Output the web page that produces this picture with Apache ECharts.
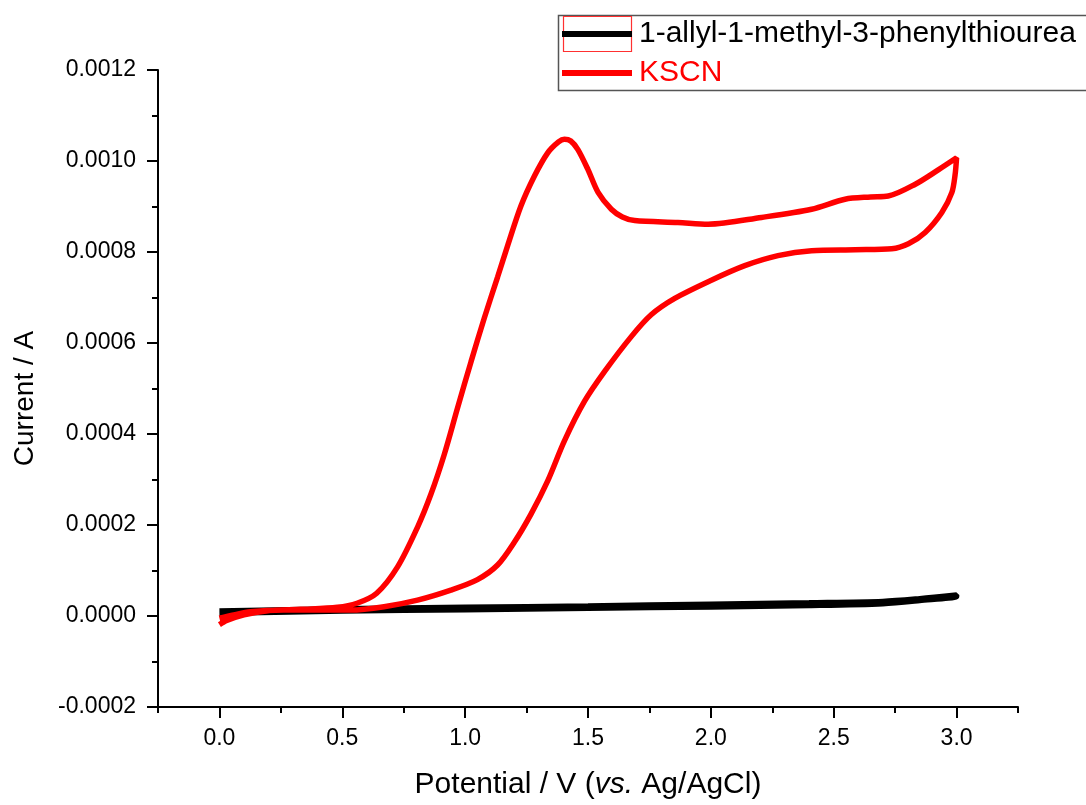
<!DOCTYPE html>
<html>
<head>
<meta charset="utf-8">
<script src="https://cdn.jsdelivr.net/npm/echarts@6/dist/echarts.min.js"></script>
<style>
html,body{margin:0;padding:0;background:#fff;}
#chart{width:1086px;height:805px;}
</style>
</head>
<body>
<div id="chart"></div>
<script>
// KSCN cyclic voltammogram (forward scan then reverse scan), potential in V, current in A
var kscnV = [0, 0.03, 0.1, 0.19, 0.33, 0.48, 0.56, 0.64, 0.725, 0.806, 0.861, 0.915, 0.969, 1.024, 1.078, 1.132, 1.173, 1.227, 1.282, 1.336, 1.38, 1.404, 1.43, 1.459, 1.5, 1.541, 1.595, 1.64, 1.69, 1.866, 1.989, 2.206, 2.41, 2.546, 2.65, 2.722, 2.832, 2.927, 3.0,
  2.994, 2.981, 2.94, 2.872, 2.804, 2.736, 2.587, 2.41, 2.273, 2.138, 2.002, 1.853, 1.757, 1.676, 1.567, 1.486, 1.404, 1.336, 1.268, 1.2, 1.132, 1.05, 0.942, 0.806, 0.67, 0.534, 0.4, 0.262, 0.126, 0.058, 0];
var kscnI = [-19e-6, -10e-6, 2.4e-6, 11e-6, 14.6e-6, 19e-6, 28e-6, 50e-6, 108e-6, 195e-6, 268e-6, 355e-6, 457e-6, 559e-6, 655e-6, 745e-6, 814e-6, 901e-6, 967e-6, 1018e-6, 1042e-6, 1048e-6, 1044e-6, 1025e-6, 981e-6, 931e-6, 894e-6, 877e-6, 869e-6, 865e-6, 861e-6, 876e-6, 894e-6, 916e-6, 921e-6, 923e-6, 949e-6, 981e-6, 1007e-6,
  970e-6, 931e-6, 887e-6, 843e-6, 818e-6, 807e-6, 805e-6, 803e-6, 792e-6, 770e-6, 738e-6, 698e-6, 662e-6, 614e-6, 537e-6, 472e-6, 385e-6, 297e-6, 224e-6, 162e-6, 112e-6, 80e-6, 57e-6, 35e-6, 20.5e-6, 13e-6, 13e-6, 13e-6, 9.6e-6, 2.4e-6, -5e-6];

// 1-allyl-1-methyl-3-phenylthiourea (forward then reverse)
var thioV = [0, 0.5, 1.0, 1.5, 2.0, 2.4, 2.7, 2.85, 3.0, 3.0, 2.85, 2.7, 2.4, 2.0, 1.5, 1.0, 0.5, 0];
var thioI = [11e-6, 16e-6, 19e-6, 22e-6, 26e-6, 29e-6, 32e-6, 38e-6, 46e-6, 43e-6, 34e-6, 27e-6, 23e-6, 20e-6, 17e-6, 14e-6, 11e-6, 6e-6];

var xMajorTicks = [0, 0.5, 1.0, 1.5, 2.0, 2.5, 3.0];
var seriesNames = ['1-allyl-1-methyl-3-phenylthiourea', 'KSCN'];

function pairs(xs, ys) { return xs.map(function (x, i) { return [x, ys[i]]; }); }

var FONT = 'Liberation Sans';
var chart = echarts.init(document.getElementById('chart'), null, {renderer: 'canvas'});
chart.setOption({
  backgroundColor: '#fff',
  animation: false,
  grid: {left: 158, right: 68, top: 70, bottom: 94, containLabel: false},
  legend: {
    orient: 'vertical', left: 558, top: 15,
    padding: [2, 0, 1, 4], itemGap: 5, itemWidth: 70, itemHeight: 6,
    icon: 'rect', borderWidth: 0,
    textStyle: {fontSize: 30, fontFamily: FONT, lineHeight: 34, padding: [0, 0, 0, 2]},
    data: [
      {name: seriesNames[0], textStyle: {color: '#000'}},
      {name: seriesNames[1], textStyle: {color: '#ff0000'}}
    ]
  },
  graphic: [{
    type: 'polyline', silent: true, z: -1,
    shape: {points: [[1120, 15.5], [558.5, 15.5], [558.5, 90.5], [1120, 90.5]]},
    style: {fill: 'none', stroke: '#555', lineWidth: 1.5}
  }, {
    type: 'rect', silent: true,
    shape: {x: 563.5, y: 16.5, width: 68, height: 35},
    style: {fill: 'none', stroke: '#ff3030', lineWidth: 1.2}
  }],
  xAxis: [{
    type: 'value', min: -0.25, max: 3.25, interval: 0.25,
    axisLine: {show: true, onZero: false, lineStyle: {color: '#000', width: 2}},
    axisTick: {show: true, inside: false, length: 6, lineStyle: {color: '#000', width: 2}},
    axisLabel: {show: false},
    splitLine: {show: false}
  }, {
    type: 'value', min: -0.25, max: 3.25, position: 'bottom',
    name: 'Potential / V ({i|vs.} Ag/AgCl)',
    nameLocation: 'middle', nameGap: 63,
    nameTextStyle: {fontSize: 30, fontFamily: FONT, color: '#000',
      rich: {i: {fontSize: 30, fontFamily: FONT, fontStyle: 'italic', color: '#000'}}},
    axisLine: {show: false, onZero: false},
    axisTick: {show: true, inside: false, length: 11, customValues: xMajorTicks, lineStyle: {color: '#000', width: 2}},
    axisLabel: {show: true, customValues: xMajorTicks, margin: 20, fontSize: 23, fontFamily: FONT, color: '#000',
      formatter: function (v) { return v.toFixed(1); }},
    splitLine: {show: false}
  }],
  yAxis: {
    type: 'value', min: -0.0002, max: 0.0012, interval: 0.0002,
    name: 'Current / A', nameLocation: 'middle', nameGap: 119, nameRotate: 90,
    nameTextStyle: {fontSize: 28, fontFamily: FONT, color: '#000', padding: [0, 20, 0, 0]},
    axisLine: {show: true, onZero: false, lineStyle: {color: '#000', width: 2}},
    axisTick: {show: true, inside: false, length: 11, lineStyle: {color: '#000', width: 2}},
    minorTick: {show: true, splitNumber: 2, length: 6, lineStyle: {color: '#000', width: 2}},
    axisLabel: {margin: 22, fontSize: 23, fontFamily: FONT, color: '#000',
      formatter: function (v) { return v.toFixed(4); }},
    splitLine: {show: false}
  },
  series: [{
    name: seriesNames[0], type: 'line', xAxisIndex: 0,
    data: pairs(thioV, thioI), showSymbol: false, smooth: 0.3,
    itemStyle: {color: '#000'}, lineStyle: {color: '#000', width: 5.5}
  }, {
    name: seriesNames[1], type: 'line', xAxisIndex: 0,
    data: pairs(kscnV, kscnI), showSymbol: false, smooth: 0.3,
    itemStyle: {color: '#ff0000'}, lineStyle: {color: '#ff0000', width: 5.5}
  }]
});
</script>
</body>
</html>
